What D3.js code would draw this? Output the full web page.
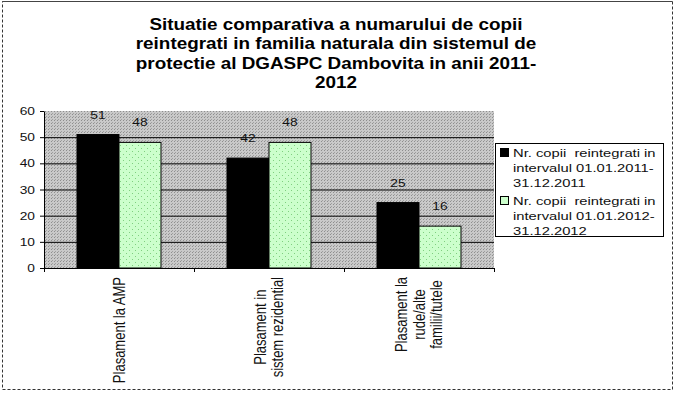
<!DOCTYPE html>
<html>
<head>
<meta charset="utf-8">
<script src="https://cdn.jsdelivr.net/npm/d3@7"></script>
<style>
  html, body { margin: 0; padding: 0; background: #fff; }
  svg { display: block; font-family: Arial, "Liberation Sans", sans-serif; }
  svg text { white-space: pre; }
</style>
</head>
<body>
<div id="chart"></div>
<script>
// date
const titleLines = [
  "Situatie comparativa a numarului de copii",
  "reintegrati in familia naturala din sistemul de",
  "protectie al DGASPC Dambovita in anii 2011-",
  "2012"
];
const categories = ["AMP", "rezidential", "rude"];
const categoryLabels = [
  ["Plasament la AMP"],
  ["Plasament in", "sistem rezidential"],
  ["Plasament la", "rude/alte", "familii/tutele"]
];
const seriesKeys = ["s2011", "s2012"];
const values2011 = [51, 42, 25];
const values2012 = [48, 48, 16];
const legendLines = [
  ["Nr. copii  reintegrati in", "intervalul 01.01.2011-", "31.12.2011"],
  ["Nr. copii  reintegrati in", "intervalul 01.01.2012-", "31.12.2012"]
];
const yTicks = [0, 10, 20, 30, 40, 50, 60];

const W = 676, H = 394;
const SX = 1.25; // imaginea originala e putin latita pe orizontala
const plot = { left: 44, right: 494, top: 111, bottom: 268 };

const svg = d3.select("#chart").append("svg")
  .attr("width", W).attr("height", H);

// modele (hasura Excel)
const defs = svg.append("defs");
const pGray = defs.append("pattern").attr("id", "grayDots")
  .attr("width", 3).attr("height", 3).attr("patternUnits", "userSpaceOnUse");
pGray.append("rect").attr("width", 3).attr("height", 3).attr("fill", "#c9c9c9");
pGray.append("rect").attr("width", 1).attr("height", 1).attr("fill", "#8e8e8e");
pGray.append("rect").attr("x", 1).attr("y", 2).attr("width", 1).attr("height", 1).attr("fill", "#a0a0a0");

const pGreen = defs.append("pattern").attr("id", "greenDots")
  .attr("width", 6).attr("height", 6).attr("patternUnits", "userSpaceOnUse");
pGreen.append("rect").attr("width", 6).attr("height", 6).attr("fill", "#ccffcc");
pGreen.append("rect").attr("x", 1).attr("y", 1).attr("width", 1).attr("height", 1).attr("fill", "#7fd07f");
pGreen.append("rect").attr("x", 4).attr("y", 4).attr("width", 1).attr("height", 1).attr("fill", "#7fd07f");

// chenar exterior
svg.append("rect")
  .attr("x", 2.5).attr("y", 1.5)
  .attr("width", 670).attr("height", 388)
  .attr("fill", "none")
  .attr("stroke", "#333")
  .attr("stroke-dasharray", "3,2");
svg.append("line")
  .attr("x1", 2.5).attr("x2", 672.5).attr("y1", 1.5).attr("y2", 1.5)
  .attr("stroke", "#444");

// helper: text latit pe orizontala
function stretchedText(parent, x, y, str, opts) {
  const g = parent.append("g").attr("transform", `translate(${x},${y}) scale(${opts.sx || SX},1)`);
  return g.append("text")
    .attr("text-anchor", opts.anchor || "start")
    .attr("font-size", opts.size)
    .attr("font-weight", opts.weight || "normal")
    .attr("fill", opts.fill || "#000")
    .text(str);
}

// titlu
titleLines.forEach((line, i) => {
  stretchedText(svg, 336, 30 + i * 19.3, line, { anchor: "middle", size: "16px", weight: "bold", sx: 1.18 });
});

// scale
const x0 = d3.scaleBand().domain(categories)
  .range([plot.left, plot.right])
  .paddingInner(0.44).paddingOuter(0.22);
const x1 = d3.scaleBand().domain(seriesKeys).range([0, x0.bandwidth()]);
const y = d3.scaleLinear().domain([0, 60]).range([plot.bottom, plot.top]);

// fundal zona grafic
svg.append("rect")
  .attr("x", plot.left).attr("y", plot.top)
  .attr("width", plot.right - plot.left).attr("height", plot.bottom - plot.top)
  .attr("fill", "url(#grayDots)");

// linii de grila
svg.append("g")
  .attr("transform", `translate(${plot.left},0)`)
  .call(d3.axisLeft(y).tickValues(yTicks.filter(t => t > 0 && t < 60))
    .tickSize(-(plot.right - plot.left)).tickFormat(""))
  .call(g => g.select(".domain").remove())
  .call(g => g.selectAll("line").attr("stroke", "#000").attr("stroke-width", 1));

// bare
const rows = categories.map((c, i) => ({ cat: c, s2011: values2011[i], s2012: values2012[i] }));
const groups = svg.append("g").selectAll("g").data(rows).join("g")
  .attr("transform", d => `translate(${x0(d.cat)},0)`);

groups.selectAll("rect").data(d => seriesKeys.map(k => ({ key: k, value: d[k] }))).join("rect")
  .attr("x", d => x1(d.key))
  .attr("y", d => y(d.value))
  .attr("width", x1.bandwidth())
  .attr("height", d => y(0) - y(d.value))
  .attr("fill", d => d.key === "s2011" ? "#000" : "url(#greenDots)")
  .attr("stroke", "#000")
  .attr("stroke-width", 1);

// etichete valori
groups.each(function (d) {
  const g = d3.select(this);
  seriesKeys.forEach(k => {
    stretchedText(g, x1(k) + x1.bandwidth() / 2, y(d[k]) - 16, d[k], { anchor: "middle", size: "11px", fill: "#111" });
  });
});

// axa Y
const yAxis = svg.append("g")
  .attr("transform", `translate(${plot.left},0)`)
  .call(d3.axisLeft(y).tickValues(yTicks).tickSize(4).tickSizeOuter(0).tickPadding(0));
yAxis.select(".domain").attr("stroke", "#000");
yAxis.selectAll(".tick line").attr("stroke", "#000");
yAxis.selectAll(".tick text")
  .attr("x", -9 / SX)
  .attr("transform", `scale(${SX},1)`)
  .attr("font-size", "11px")
  .attr("fill", "#111");

// axa X (diviziuni intre categorii)
const xDiv = d3.scaleLinear().domain([0, categories.length]).range([plot.left, plot.right]);
svg.append("g")
  .attr("transform", `translate(0,${plot.bottom})`)
  .call(d3.axisBottom(xDiv).tickValues(d3.range(0, categories.length + 1)).tickSize(4).tickSizeOuter(0).tickFormat(""))
  .call(g => g.selectAll("line, path").attr("stroke", "#000"));

// etichete categorii (rotite)
const labelTop = 277, lineGap = 14;
categoryLabels.forEach((lines, i) => {
  const cx = x0(categories[i]) + x0.bandwidth() / 2;
  const g = svg.append("g");
  const n = lines.length;
  const texts = lines.map((line, j) => {
    const lx = cx + (j - (n - 1) / 2) * lineGap * SX;
    const t = g.append("g")
      .attr("transform", `translate(${lx},0) scale(${SX},1) rotate(-90)`)
      .append("text")
      .attr("font-size", "13px")
      .attr("fill", "#111")
      .attr("text-anchor", "middle")
      .attr("dy", "0.35em")
      .text(line);
    return t;
  });
  const maxLen = d3.max(texts, t => t.node().getComputedTextLength());
  texts.forEach(t => t.attr("x", -(labelTop + maxLen / 2)));
});

// legenda
const leg = svg.append("g");
leg.append("rect")
  .attr("x", 495.5).attr("y", 143.5)
  .attr("width", 168).attr("height", 93)
  .attr("fill", "#fff").attr("stroke", "#000");

legendLines.forEach((lines, i) => {
  const top = 157 + i * 48;
  leg.append("rect")
    .attr("x", 500.5).attr("y", top - 8.5)
    .attr("width", 8).attr("height", 8)
    .attr("fill", i === 0 ? "#000" : "#ccffcc")
    .attr("stroke", "#000");
  lines.forEach((line, j) => {
    stretchedText(leg, 513, top + j * 15, line, { size: "11.8px", fill: "#111" });
  });
});
</script>
</body>
</html>
